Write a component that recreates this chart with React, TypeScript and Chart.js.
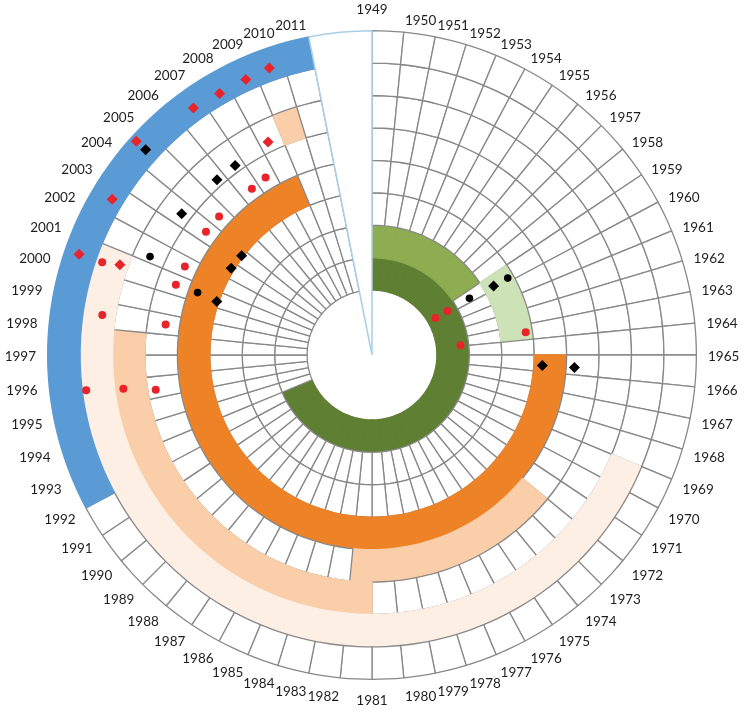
import React, { useEffect, useRef } from 'react';
import { Chart, registerables } from 'chart.js';

Chart.register(...registerables);

// ---------- data ----------
const FIRST_YEAR = 1949;
const YEAR_LABELS: string[] = Array.from({ length: 63 }, (_, i) => String(FIRST_YEAR + i)); // 1949..2011
const SPOKES = 64; // 63 labelled years + one blank slot closing the circle
const RINGS = 8;
const SUB = 8; // angular sub-steps per year for marker placement

// coloured bands: ring (1 = innermost), from year (inclusive), to year (exclusive), kind
const bandRing = [1, 2, 3, 4, 5, 6, 6, 7, 8];
const bandFrom = [1949, 1949, 1959, 1965, 1972, 1981, 2009, 1969, 1992];
const bandTo = [1993, 1959, 1964, 2009, 1982, 1998, 2010, 2001, 2011];
const bandKind = ['darkGreen', 'green', 'paleGreen', 'orange', 'peach', 'peach', 'peach', 'palePeach', 'blue'];

// markers: year position and radial level (0 = inner edge, 8 = outer edge)
const redDiamondYear = [2009.5, 2008.65, 2007.66, 2006.6, 2004.5, 2002.5, 2000.4, 2000.45, 2008.4];
const redDiamondLevel = [7.38, 7.32, 7.31, 7.38, 7.79, 7.32, 7.53, 6.24, 5.29];

const blackDiamondYear = [2004.49, 2006.59, 2005.6, 2003.55, 2003.6, 2002.65, 2000.35, 1959.74, 1965.6, 1965.65];
const blackDiamondLevel = [7.4, 5.19, 5.2, 5.29, 3.04, 3.09, 3.05, 2.3, 3.25, 4.24];

const redDotYear = [2000.42, 1998.54, 2007.55, 2006.6, 2004.46, 2003.55, 2001.47, 2000.44, 1998.47, 1995.69, 1995.6, 1995.41, 1959.63, 1959.63, 1963.85, 1963.49];
const redDotLevel = [6.78, 6.39, 4.37, 4.31, 4.35, 4.36, 4.37, 4.41, 4.42, 6.86, 5.72, 4.74, 0.26, 0.69, 0.74, 2.78];

const blackDotYear = [2001.28, 2000.48, 1959.61, 1959.74];
const blackDotLevel = [5.47, 3.7, 1.47, 2.8];

// ---------- styles ----------
const COLORS: Record<string, string> = {
  darkGreen: '#5f7f33',
  green: '#8eac50',
  paleGreen: '#cde2b6',
  orange: '#ee8227',
  peach: '#f9cea9',
  palePeach: '#fdefe4',
  blue: '#5b9bd5',
};
const GRID = '#888888';
const GRID_W = 1.3;
const WEDGE = '#a9cfe6';
const RED = '#e8242a';
const BLACK = '#000000';

const W = 750;
const H = 717;
const PADDING = { left: 47, right: 53, top: 30, bottom: 37 };

function markerLayers(years: number[], levels: number[]): (number | null)[][] {
  const n = SPOKES * SUB;
  const layers: (number | null)[][] = [];
  years.forEach((y, i) => {
    const idx = Math.round((y - FIRST_YEAR) * SUB) % n;
    let layer = layers.find((l) => l[idx] == null);
    if (!layer) {
      layer = new Array(n).fill(null);
      layers.push(layer);
    }
    layer[idx] = levels[i];
  });
  return layers;
}

const yearLabelPlugin = {
  id: 'yearLabels',
  afterDraw(chart: any) {
    const scale = chart.scales.r;
    const ctx = chart.ctx;
    ctx.save();
    ctx.font = '13.5px Lato, "Open Sans", sans-serif';
    ctx.fillStyle = '#1e1e1e';
    ctx.textBaseline = 'middle';
    YEAR_LABELS.forEach((lab, i) => {
      const idx = i * SUB;
      const th = scale.getIndexAngle(idx);
      const p = scale.getPointPosition(idx, scale.drawingArea + 11);
      const s = Math.sin(th);
      const c = Math.cos(th);
      let y = p.y;
      if (Math.abs(s) < 0.02) {
        ctx.textAlign = 'center';
        y += c > 0 ? -9 : 10;
      } else {
        ctx.textAlign = s > 0 ? 'left' : 'right';
        y += c >= 0 ? 2 - 2 * c : 2 + 5 * Math.min(1, -2 * c);
      }
      ctx.fillText(lab, p.x, y);
    });
    ctx.restore();
  },
};

export default function App() {
  const ringRef = useRef<HTMLCanvasElement>(null);
  const wedgeRef = useRef<HTMLCanvasElement>(null);
  const markRef = useRef<HTMLCanvasElement>(null);

  useEffect(() => {
    const common: any = {
      responsive: false,
      animation: false,
      events: [],
      layout: { padding: PADDING },
      plugins: { legend: { display: false }, tooltip: { enabled: false } },
    };

    // ---- rings (doughnut) ----
    const gapStart = YEAR_LABELS.length - 1; // last labelled spoke
    const ringDatasets: any[] = [];
    for (let d = 0; d < RINGS; d++) {
      const ring = RINGS - d;
      const fills: string[] = [];
      const borders: string[] = [];
      const widths: number[] = [];
      for (let k = 0; k < SPOKES; k++) {
        const year = FIRST_YEAR + k;
        let kind: string | null = null;
        bandRing.forEach((r, b) => {
          if (r === ring && year >= bandFrom[b] && year < bandTo[b]) kind = bandKind[b];
        });
        if (k >= gapStart) {
          fills.push('rgba(0,0,0,0)');
          borders.push('rgba(0,0,0,0)');
          widths.push(0);
        } else if (kind) {
          fills.push(COLORS[kind]);
          borders.push(COLORS[kind]);
          widths.push(GRID_W);
        } else {
          fills.push('#ffffff');
          borders.push(GRID);
          widths.push(GRID_W);
        }
      }
      ringDatasets.push({
        data: new Array(SPOKES).fill(1),
        backgroundColor: fills,
        borderColor: borders,
        borderWidth: widths,
      });
    }
    const ringChart = new Chart(ringRef.current as HTMLCanvasElement, {
      type: 'doughnut',
      data: {
        labels: Array.from({ length: SPOKES }, (_, k) => String(FIRST_YEAR + k)),
        datasets: ringDatasets,
      },
      options: { ...common, cutout: '20%' },
    });

    // ---- blank wedge (pie) ----
    const wedgeChart = new Chart(wedgeRef.current as HTMLCanvasElement, {
      type: 'pie',
      data: {
        labels: ['years', 'gap'],
        datasets: [
          {
            data: [gapStart, SPOKES - gapStart],
            backgroundColor: ['rgba(0,0,0,0)', '#ffffff'],
            borderColor: ['rgba(0,0,0,0)', WEDGE],
            borderWidth: [0, 1.5],
          },
        ],
      },
      options: common,
    });

    // ---- markers + labels (radar) ----
    const kinds = [
      { years: blackDiamondYear, levels: blackDiamondLevel, style: 'rectRot', color: BLACK, radius: 5.5 },
      { years: redDiamondYear, levels: redDiamondLevel, style: 'rectRot', color: RED, radius: 5.5 },
      { years: blackDotYear, levels: blackDotLevel, style: 'circle', color: BLACK, radius: 3.8 },
      { years: redDotYear, levels: redDotLevel, style: 'circle', color: RED, radius: 4 },
    ];
    const markDatasets: any[] = [];
    kinds.forEach((k) => {
      markerLayers(k.years, k.levels).forEach((layer) => {
        markDatasets.push({
          data: layer,
          showLine: false,
          pointStyle: k.style,
          pointRadius: k.radius,
          pointHoverRadius: k.radius,
          pointBackgroundColor: k.color,
          pointBorderColor: k.color,
          pointBorderWidth: 0,
          borderWidth: 0,
          fill: false,
        });
      });
    });
    const n = SPOKES * SUB;
    const markChart = new Chart(markRef.current as HTMLCanvasElement, {
      type: 'radar',
      data: {
        labels: Array.from({ length: n }, (_, i) =>
          i % SUB === 0 && i / SUB < YEAR_LABELS.length ? YEAR_LABELS[i / SUB] : ''
        ),
        datasets: markDatasets,
      },
      options: {
        ...common,
        scales: {
          r: {
            min: -2,
            max: 8,
            grid: { display: false },
            angleLines: { display: false },
            ticks: { display: false },
            pointLabels: { display: false },
          },
        },
      },
      plugins: [yearLabelPlugin],
    });

    return () => {
      ringChart.destroy();
      wedgeChart.destroy();
      markChart.destroy();
    };
  }, []);

  const canvasStyle: React.CSSProperties = {
    position: 'absolute',
    left: 0,
    top: 0,
    width: W,
    height: H,
  };

  return (
    <div style={{ position: 'fixed', left: 0, top: 0, width: W, height: H, background: '#ffffff' }}>
      <canvas ref={ringRef} width={W} height={H} style={canvasStyle} />
      <canvas ref={wedgeRef} width={W} height={H} style={canvasStyle} />
      <canvas ref={markRef} width={W} height={H} style={canvasStyle} />
    </div>
  );
}
